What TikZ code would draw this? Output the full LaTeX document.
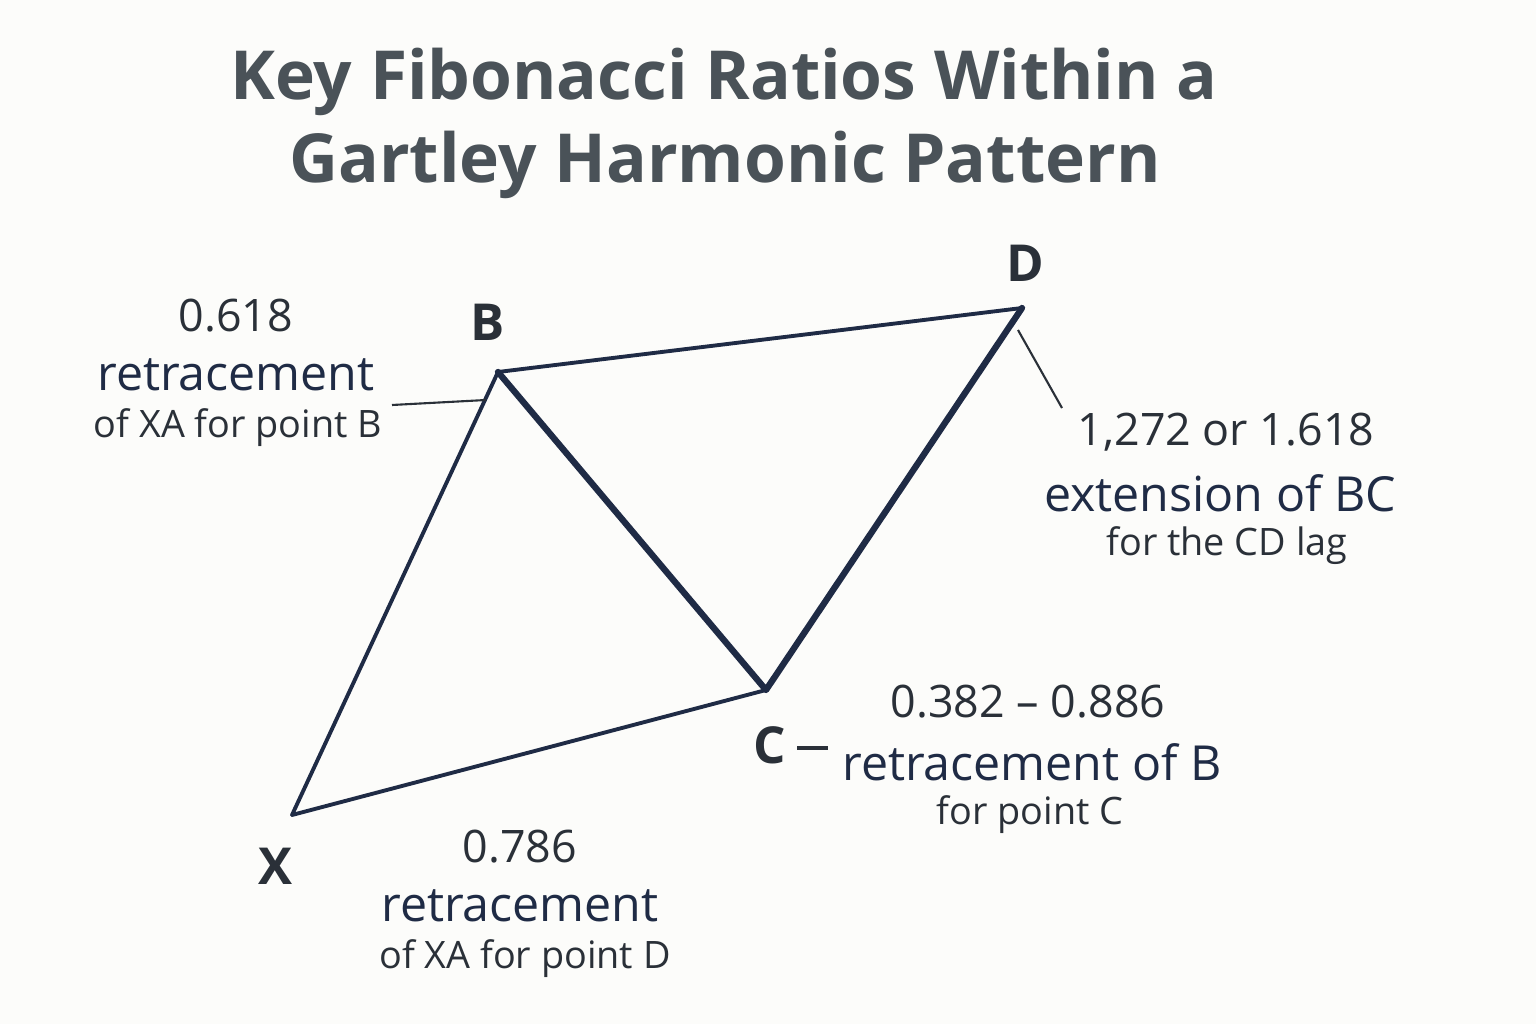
\documentclass[tikz,border=0pt]{standalone}
\usepackage{fontspec}
\setmainfont{Open Sans}
\definecolor{navy}{HTML}{1F2B45}
\definecolor{ink}{HTML}{2A3038}
\definecolor{titlec}{HTML}{4A5258}
\definecolor{bg}{HTML}{FCFCFA}
\begin{document}
\begin{tikzpicture}[x=0.02cm,y=-0.02cm,
  leg/.style={draw=navy,line width=2.2pt,line join=round,line cap=round},
  thick leg/.style={draw=navy,line width=3.6pt,line join=round,line cap=round},
  pt/.style={font=\fontsize{29}{30}\selectfont\bfseries,text=ink},
  num/.style={font=\fontsize{25.5}{28}\selectfont,text=ink},
  ret/.style={font=\fontsize{27.5}{30}\selectfont,text=navy},
  sub/.style={font=\fontsize{21.5}{24}\selectfont,text=ink},
  lead/.style={draw=ink,line width=1.2pt}]
\fill[bg] (0,0) rectangle (1536,1024);
\useasboundingbox (0,0) rectangle (1536,1024);
\node[font=\fontsize{38.5}{42}\selectfont\bfseries,text=titlec] (t1) at (724,82) {Key Fibonacci Ratios Within a};
\node[font=\fontsize{38.5}{42}\selectfont\bfseries,text=titlec] (t2) at (725,165) {Gartley Harmonic Pattern};
\coordinate (X) at (292,815);
\coordinate (B) at (498,372);
\coordinate (C) at (766,690);
\coordinate (D) at (1022,308);
\draw[leg] (X) -- (B);
\draw[leg] (B) -- (D);
\draw[leg] (X) -- (C);
\draw[thick leg] (B) -- (C) -- (D);
\node[pt] (lB) at (488,322) {B};
\node[pt] (lD) at (1025,263) {D};
\node[pt] (lX) at (275,866) {X};
\node[pt] (lC) at (770,745) {C};
% B label
\node[num] (b1) at (236,316) {0.618};
\node[ret] (b2) at (236,375) {retracement};
\node[sub] (b3) at (238,428) {of XA for point B};
\coordinate (bl1) at (392,405); \coordinate (bl2) at (486,400);
\draw[lead] (bl1) -- (bl2);
% D label
\node[num] (d1) at (1226,432) {1,272 or 1.618};
\node[ret] (d2) at (1220,493) {extension of BC};
\node[sub] (d3) at (1227,546) {for the CD lag};
\coordinate (dl1) at (1018,330); \coordinate (dl2) at (1062,408);
\draw[lead] (dl1) -- (dl2);
% C label
\node[num] (c1) at (1028,702) {0.382 – 0.886};
\node[ret] (c2) at (1032,762) {retracement of B};
\node[sub] (c3) at (1030,815) {for point C};
\coordinate (cl1) at (797,748); \coordinate (cl2) at (828,748);
\draw[lead,line width=1.8pt] (cl1) -- (cl2);
% X-C label
\node[num] (x1) at (520,847) {0.786};
\node[ret] (x2) at (520,906) {retracement};
\node[sub] (x3) at (525,959) {of XA for point D};
\end{tikzpicture}
\end{document}
